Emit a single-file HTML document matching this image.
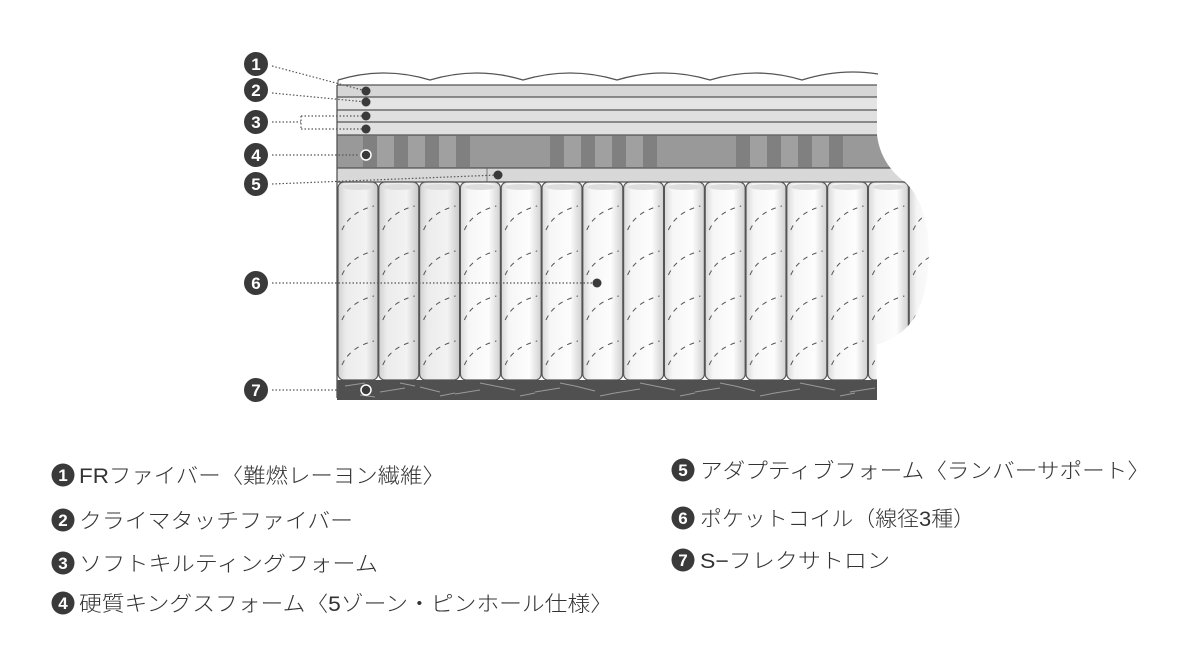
<!DOCTYPE html>
<html><head><meta charset="utf-8"><style>
html,body{margin:0;padding:0;background:#fff;width:1200px;height:668px;overflow:hidden}
svg{display:block}
.t{font-family:"Liberation Sans","Noto Sans CJK JP",sans-serif;font-size:21px;fill:#333;font-weight:300}
.n{font-family:"Liberation Sans",sans-serif;font-size:17px;font-weight:bold;fill:#fff;text-anchor:middle}
</style></head><body>
<svg width="1200" height="668" viewBox="0 0 1200 668" xmlns="http://www.w3.org/2000/svg">
<defs>
<linearGradient id="coil" x1="0" x2="1" y1="0" y2="0">
<stop offset="0" stop-color="#d8d8d8"/><stop offset="0.2" stop-color="#f6f6f6"/><stop offset="0.7" stop-color="#fdfdfd"/><stop offset="1" stop-color="#d0d0d0"/>
</linearGradient>
<linearGradient id="coilg" x1="0" x2="1" y1="0" y2="0">
<stop offset="0" stop-color="#d0d0d0"/><stop offset="0.2" stop-color="#ececec"/><stop offset="0.7" stop-color="#f2f2f2"/><stop offset="1" stop-color="#c8c8c8"/>
</linearGradient>
<clipPath id="mclip">
<path d="M337 80 L877 80 L877 135 C880 160 895 175 905 182 C925 200 935 240 925 290 C918 320 905 335 877 345 L877 400 L337 400 Z"/>
</clipPath>
</defs>
<path d="M338 80 Q384 66 430 80 Q477 66 523 80 Q570 66 617 80 Q663 66 710 80 Q756 66 802 80 Q840 68 878 74" fill="none" stroke="#555" stroke-width="1.3"/>
<line x1="338" y1="80" x2="338" y2="85" stroke="#555"/>
<g clip-path="url(#mclip)">
<rect x="337" y="85" width="545" height="12" fill="#d6d6d6"/>
<rect x="337" y="97" width="545" height="13" fill="#e4e4e4"/>
<rect x="337" y="110" width="545" height="12" fill="#e0e0e0"/>
<rect x="337" y="122" width="545" height="13" fill="#e0e0e0"/>
<rect x="337" y="135" width="600" height="33" fill="#999"/>
<g fill="#808080">
<rect x="363" y="136" width="14" height="31"/><rect x="394" y="136" width="14" height="31"/><rect x="425" y="136" width="14" height="31"/><rect x="456" y="136" width="14" height="31"/>
<rect x="550" y="136" width="14" height="31"/><rect x="581" y="136" width="14" height="31"/><rect x="612" y="136" width="14" height="31"/><rect x="643" y="136" width="14" height="31"/>
<rect x="736" y="136" width="14" height="31"/><rect x="767" y="136" width="14" height="31"/><rect x="798" y="136" width="14" height="31"/><rect x="829" y="136" width="14" height="31"/>
</g>
<g fill="#a0a0a0">
<rect x="377" y="136" width="17" height="31"/><rect x="408" y="136" width="17" height="31"/><rect x="439" y="136" width="17" height="31"/>
<rect x="564" y="136" width="17" height="31"/><rect x="595" y="136" width="17" height="31"/><rect x="626" y="136" width="17" height="31"/>
<rect x="750" y="136" width="17" height="31"/><rect x="781" y="136" width="17" height="31"/><rect x="812" y="136" width="17" height="31"/>
</g>
<rect x="337" y="168" width="600" height="14" fill="#d8d8d8"/>
<line x1="487" y1="168" x2="487" y2="182" stroke="#777"/>
<g stroke="#555" stroke-width="1.2">
<line x1="337" y1="85" x2="877" y2="85"/><line x1="337" y1="97" x2="877" y2="97"/><line x1="337" y1="110" x2="877" y2="110"/><line x1="337" y1="122" x2="877" y2="122"/>
<line x1="337" y1="135" x2="900" y2="135"/><line x1="337" y1="168" x2="920" y2="168"/><line x1="337" y1="182" x2="920" y2="182"/>
</g>
<g stroke="#555" stroke-width="1.2">
<rect x="338" y="182" width="40" height="198" rx="6" fill="url(#coilg)"/>
<rect x="378.8" y="182" width="40" height="198" rx="6" fill="url(#coilg)"/>
<rect x="419.6" y="182" width="40" height="198" rx="6" fill="url(#coilg)"/>
<rect x="460.4" y="182" width="40" height="198" rx="6" fill="url(#coil)"/>
<rect x="501.2" y="182" width="40" height="198" rx="6" fill="url(#coil)"/>
<rect x="542" y="182" width="40" height="198" rx="6" fill="url(#coil)"/>
<rect x="582.8" y="182" width="40" height="198" rx="6" fill="url(#coil)"/>
<rect x="623.6" y="182" width="40" height="198" rx="6" fill="url(#coil)"/>
<rect x="664.4" y="182" width="40" height="198" rx="6" fill="url(#coil)"/>
<rect x="705.2" y="182" width="40" height="198" rx="6" fill="url(#coil)"/>
<rect x="746" y="182" width="40" height="198" rx="6" fill="url(#coil)"/>
<rect x="786.8" y="182" width="40" height="198" rx="6" fill="url(#coil)"/>
<rect x="827.6" y="182" width="40" height="198" rx="6" fill="url(#coil)"/>
<rect x="868.4" y="182" width="40" height="198" rx="6" fill="url(#coil)"/>
<rect x="909.2" y="182" width="40" height="198" rx="6" fill="url(#coil)"/>
</g>
<g fill="#ddd">
<ellipse cx="358" cy="187" rx="16" ry="3"/><ellipse cx="398.8" cy="187" rx="16" ry="3"/><ellipse cx="439.6" cy="187" rx="16" ry="3"/><ellipse cx="480.4" cy="187" rx="16" ry="3"/><ellipse cx="521.2" cy="187" rx="16" ry="3"/><ellipse cx="562" cy="187" rx="16" ry="3"/><ellipse cx="602.8" cy="187" rx="16" ry="3"/><ellipse cx="643.6" cy="187" rx="16" ry="3"/><ellipse cx="684.4" cy="187" rx="16" ry="3"/><ellipse cx="725.2" cy="187" rx="16" ry="3"/><ellipse cx="766" cy="187" rx="16" ry="3"/><ellipse cx="806.8" cy="187" rx="16" ry="3"/><ellipse cx="847.6" cy="187" rx="16" ry="3"/><ellipse cx="888.4" cy="187" rx="16" ry="3"/>
</g>
<g id="hz" fill="none" stroke="#555" stroke-width="1" stroke-dasharray="5 5">
<path d="M342 230 Q350 212 374 206 M342 275 Q350 257 374 251 M342 320 Q350 302 374 296 M342 365 Q350 347 374 341"/>
</g>
<rect x="337" y="380" width="545" height="20" fill="#505050"/>
<g stroke="#999" stroke-width="1">
<path d="M345 386 l20 -3 M380 392 l25 -4 M420 387 l20 5 M455 394 l25 -4 M495 386 l20 4 M535 392 l25 -4 M575 386 l20 5 M615 393 l25 -4 M655 386 l20 4 M695 392 l25 -4 M735 386 l20 5 M775 393 l25 -4 M815 386 l20 4 M850 392 l25 -4"/>
<path d="M360 395 l15 2 M400 383 l15 3 M440 396 l15 -3 M480 383 l15 3 M520 396 l15 -3 M560 383 l15 3 M600 396 l15 -3 M640 383 l15 3 M680 396 l15 -3 M720 383 l15 3 M760 396 l15 -3 M800 383 l15 3 M840 396 l15 -3"/>
</g>
</g>
<line x1="337" y1="85" x2="337" y2="398" stroke="#555" stroke-width="1.3"/>
<g fill="none" stroke="#555" stroke-width="1.2" stroke-dasharray="1.5 2">
<path d="M272 66 L366 91"/>
<path d="M272 93 L366 102"/>
<path d="M272 122 L301 122 M301 116 L366 116 M301 129 L366 129 M301 116 L301 129"/>
<path d="M272 155 L359 155"/>
<path d="M272 184 L498 175"/>
<path d="M272 283 L597 283"/>
<path d="M272 390 L359 390"/>
</g>
<g fill="#3a3a3a">
<circle cx="366" cy="91" r="4.5"/><circle cx="366" cy="102" r="4.5"/><circle cx="366" cy="116" r="4.5"/><circle cx="366" cy="129" r="4.5"/>
<circle cx="498" cy="175" r="4.5"/><circle cx="597" cy="283" r="4.5"/>
</g>
<circle cx="366" cy="155" r="5" fill="#3a3a3a" stroke="#fff" stroke-width="1.5"/>
<circle cx="366" cy="390" r="5" fill="#3a3a3a" stroke="#fff" stroke-width="1.5"/>
<g fill="#3a3a3a">
<circle cx="256" cy="64" r="12"/><circle cx="256" cy="90" r="12"/><circle cx="256" cy="122" r="12"/><circle cx="256" cy="155" r="12"/><circle cx="256" cy="184" r="12"/><circle cx="256" cy="283" r="12"/><circle cx="256" cy="390" r="12"/>
<circle cx="63" cy="475" r="11.5"/><circle cx="63" cy="520" r="11.5"/><circle cx="63" cy="563" r="11.5"/><circle cx="63" cy="603" r="11.5"/>
<circle cx="683" cy="470" r="11.5"/><circle cx="683" cy="518" r="11.5"/><circle cx="683" cy="560" r="11.5"/>
</g>
<g class="n">
<text x="256" y="70">1</text><text x="256" y="96">2</text><text x="256" y="128">3</text><text x="256" y="161">4</text><text x="256" y="190">5</text><text x="256" y="289">6</text><text x="256" y="396">7</text>
<text x="63" y="481">1</text><text x="63" y="526">2</text><text x="63" y="569">3</text><text x="63" y="609">4</text>
<text x="683" y="476">5</text><text x="683" y="524">6</text><text x="683" y="566">7</text>
</g>
<g class="t">
<text x="79" y="483" textLength="366" lengthAdjust="spacingAndGlyphs">FRファイバー〈難燃レーヨン繊維〉</text>
<text x="79" y="528" textLength="274" lengthAdjust="spacingAndGlyphs">クライマタッチファイバー</text>
<text x="79" y="571" textLength="299" lengthAdjust="spacingAndGlyphs">ソフトキルティングフォーム</text>
<text x="79" y="611" textLength="534" lengthAdjust="spacingAndGlyphs">硬質キングスフォーム〈5ゾーン・ピンホール仕様〉</text>
<text x="700" y="478" textLength="450" lengthAdjust="spacingAndGlyphs">アダプティブフォーム〈ランバーサポート〉</text>
<text x="700" y="526" textLength="275" lengthAdjust="spacingAndGlyphs">ポケットコイル（線径3種）</text>
<text x="700" y="568" textLength="190" lengthAdjust="spacingAndGlyphs">S−フレクサトロン</text>
</g>
</svg>
<script>
(function(){var ns="http://www.w3.org/2000/svg";var g=document.getElementById("hz");
for(var i=1;i<15;i++){var p=document.createElementNS(ns,"path");var dx=i*40.8;
p.setAttribute("d","M"+(342+dx)+" 230 Q"+(350+dx)+" 212 "+(374+dx)+" 206 M"+(342+dx)+" 275 Q"+(350+dx)+" 257 "+(374+dx)+" 251 M"+(342+dx)+" 320 Q"+(350+dx)+" 302 "+(374+dx)+" 296 M"+(342+dx)+" 365 Q"+(350+dx)+" 347 "+(374+dx)+" 341");
g.appendChild(p);}})();
</script>
</body></html>
